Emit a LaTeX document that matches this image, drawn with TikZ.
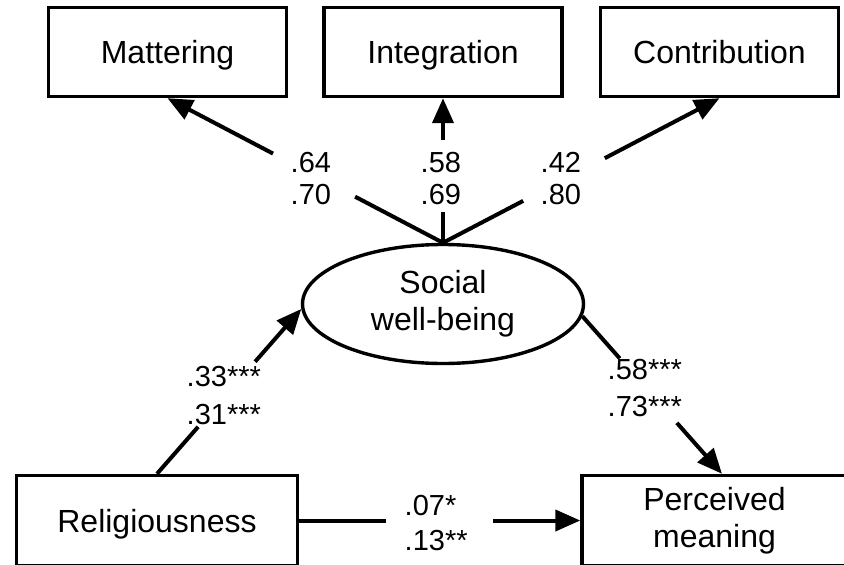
\documentclass[tikz,border=0pt]{standalone}
\usepackage{fontspec}
\setmainfont{Liberation Sans}
\usetikzlibrary{arrows.meta,shapes.geometric,calc}
\begin{document}
\begin{tikzpicture}[x=1pt,y=-1pt,
  box/.style={draw, line width=3.4pt, rectangle, inner sep=0pt,
    minimum width=238pt, minimum height=89pt,
    font=\fontsize{32}{37}\selectfont},
  onebox/.style={box, text depth=0pt},
  latent/.style={draw, line width=3.4pt, ellipse, inner sep=0pt,
    minimum width=281pt, minimum height=119pt, align=center,
    font=\fontsize{32}{37}\selectfont},
  coef/.style={anchor=west, inner sep=0pt, align=left,
    font=\fontsize{29}{32}\selectfont},
  conn/.style={line width=4pt},
  arr/.style={conn, -{Triangle[length=25pt,width=21pt]}}
]
\useasboundingbox (0,0) rectangle (844,565);
\fill[white] (0,0) rectangle (844,565);
\clip (0,0) rectangle (844,565);

% indicators
\node[onebox] (mat) at (167.5,52) {Mattering};
\node[onebox] (int) at (443,52) {Integration};
\node[onebox] (con) at (719.5,52) {Contribution};

% latent factor
\node[latent] (swb) at (443,304) {Social\\well-being};

% predictor and outcome
\node[onebox, minimum width=281pt, minimum height=90pt] (rel) at (157,520.5) {Religiousness};
\node[box, align=center, minimum width=265pt, minimum height=90pt] (pm) at (714.5,520.5) {Perceived\\meaning};

% loadings, each line broken around its coefficients
\path (swb.north) -- (mat.south) coordinate[pos=0.319] (m1) coordinate[pos=0.617] (m2);
\draw[conn] (swb.north) -- (m1);
\draw[arr] (m2) -- (mat.south);

\path (swb.north) -- (int.south) coordinate[pos=0.214] (i1) coordinate[pos=0.71] (i2);
\draw[conn] (swb.north) -- (i1);
\draw[arr] (i2) -- (int.south);

\path (swb.north) -- (con.south) coordinate[pos=0.29] (c1) coordinate[pos=0.585] (c2);
\draw[conn] (swb.north) -- (c1);
\draw[arr] (c2) -- (con.south);

% structural paths
\coordinate (pmin) at ($(pm.north)+(7.5,0)$);

\path (rel.north) -- (swb.182) coordinate[pos=0.285] (r1) coordinate[pos=0.68] (r2);
\draw[conn] (rel.north) -- (r1);
\draw[arr] (r2) -- (swb.182);

\path (swb.355.5) -- (pmin) coordinate[pos=0.268] (s1) coordinate[pos=0.677] (s2);
\draw[conn] (swb.355.5) -- (s1);
\draw[arr] (s2) -- (pmin);

\path (rel.east) -- (pm.west) coordinate[pos=0.309] (d1) coordinate[pos=0.689] (d2);
\draw[conn] (rel.east) -- (d1);
\draw[arr] (d2) -- (pm.west);

% coefficients
\node[coef] (lm) at (290.5,178.5) {.64\\.70};
\node[coef] (li) at (420.5,178.5) {.58\\.69};
\node[coef] (lc) at (540.5,178.5) {.42\\.80};
\node[coef] (lr) at (186.5,396) {.33***\\[6pt].31***};
\node[coef] (ls) at (607.5,388.5) {.58***\\[5pt].73***};
\node[coef] (ld) at (404.5,523.5) {.07*\\[3pt].13**};
\end{tikzpicture}
\end{document}
